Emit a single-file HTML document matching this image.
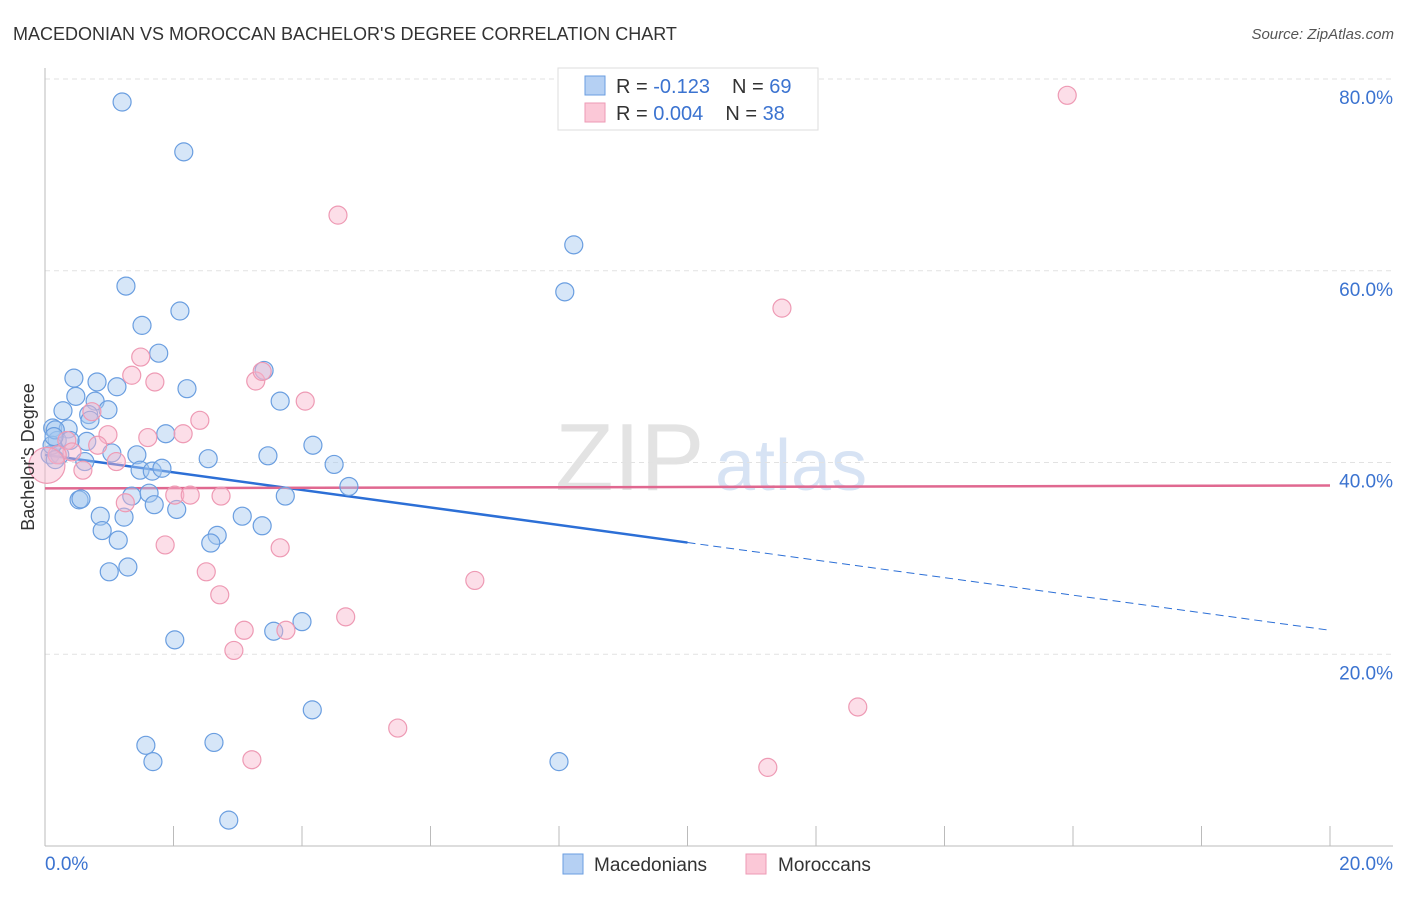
<!DOCTYPE html>
<html><head><meta charset="utf-8"><style>
body{margin:0;background:#fff;font-family:"Liberation Sans",sans-serif;}
svg text{font-family:"Liberation Sans",sans-serif;}
</style></head><body>
<svg id="chart" width="1406" height="892" viewBox="0 0 1406 892" xmlns="http://www.w3.org/2000/svg">
<text x="13" y="40" font-size="18" fill="#333">MACEDONIAN VS MOROCCAN BACHELOR'S DEGREE CORRELATION CHART</text>
<text x="1394" y="39" font-size="15" font-style="italic" fill="#555" text-anchor="end">Source: ZipAtlas.com</text>
<g>
<text x="555" y="490" font-size="96" font-family="Liberation Serif" fill="#d8d8d8" opacity="0.7">ZIP</text>
<text x="715" y="490" font-size="72" fill="#c7d8f0" opacity="0.7">atlas</text>
</g>
<g id="grid"></g>
<g id="axes"></g>
<g id="lines"></g>
<g id="points"></g>
<text transform="translate(34,457) rotate(-90)" font-size="18" fill="#333" text-anchor="middle">Bachelor's Degree</text>
<g>
<rect x="558" y="68" width="260" height="62" fill="#fff" stroke="#ddd"/>
<rect x="585" y="76" width="20" height="19" fill="#b5d0f3" stroke="#6a9ee0"/>
<rect x="585" y="103" width="20" height="19" fill="#fbc8d7" stroke="#ee9ab4"/>
<text x="616" y="93" font-size="20" fill="#333">R = <tspan fill="#3b73d0">-0.123</tspan><tspan dx="22">N = </tspan><tspan fill="#3b73d0">69</tspan></text>
<text x="616" y="120" font-size="20" fill="#333">R = <tspan fill="#3b73d0">0.004</tspan><tspan dx="22">N = </tspan><tspan fill="#3b73d0">38</tspan></text>
</g>
<g>
<rect x="563" y="854" width="20" height="20" fill="#b5d0f3" stroke="#6a9ee0"/>
<text x="594" y="871" font-size="19" fill="#333">Macedonians</text>
<rect x="746" y="854" width="20" height="20" fill="#fbc8d7" stroke="#ee9ab4"/>
<text x="778" y="871" font-size="19" fill="#333">Moroccans</text>
</g>
</svg>
<script>
const yTicks=[20,40,60,80];
const yTickLabels=["20.0%","40.0%","60.0%","80.0%"];
const xTicks=[0,2,4,6,8,10,12,14,16,18,20];
const xTickLabels=["0.0%","20.0%"];
const blueX=[1.20,2.16,8.23,8.09,1.26,2.10,1.51,1.77,3.41,0.45,0.81,1.12,2.21,3.66,0.48,0.78,0.28,0.98,0.68,0.12,0.36,0.19,0.65,4.17,1.88,0.08,0.23,1.04,1.43,2.54,3.47,4.50,0.62,1.48,1.67,1.82,4.73,0.53,0.56,1.35,1.62,1.70,2.05,3.74,0.86,1.23,3.07,3.38,0.89,1.14,2.68,2.58,1.00,1.29,4.00,3.56,2.02,4.16,1.57,1.68,2.63,8.00,2.86,0.11,0.16,0.16,0.39,0.70,0.14];
const blueY=[77.6,72.4,62.7,57.8,58.4,55.8,54.3,51.4,49.6,48.8,48.4,47.9,47.7,46.4,46.9,46.4,45.4,45.5,45.0,43.6,43.5,42.3,42.2,41.8,43.0,40.8,40.8,41.0,40.8,40.4,40.7,39.8,40.1,39.2,39.1,39.4,37.5,36.1,36.2,36.5,36.8,35.6,35.1,36.5,34.4,34.3,34.4,33.4,32.9,31.9,32.4,31.6,28.6,29.1,23.4,22.4,21.5,14.2,10.5,8.8,10.8,8.8,2.7,41.8,40.3,43.4,42.3,44.4,42.7];
const pinkX=[15.91,4.56,11.47,1.49,1.35,1.71,3.28,3.38,4.05,2.41,0.73,0.98,1.60,2.15,0.82,0.34,0.42,1.11,0.59,0.19,0.03,1.25,2.02,2.26,2.74,3.66,1.87,2.51,2.72,6.69,4.68,3.10,3.75,2.94,12.65,5.49,3.22,11.25];
const pinkY=[78.3,65.8,56.1,51.0,49.1,48.4,48.5,49.5,46.4,44.4,45.3,42.9,42.6,43.0,41.8,42.3,41.1,40.1,39.2,40.8,39.7,35.8,36.6,36.6,36.5,31.1,31.4,28.6,26.2,27.7,23.9,22.5,22.5,20.4,14.5,12.3,9.0,8.2];
const blueTrend=[40.8,22.5];
const pinkTrend=[37.3,37.6];
const sx=v=>45+v/20*1285;
const sy=v=>846-v/80*767;
const NS="http://www.w3.org/2000/svg";
function mk(parent,tag,attrs){const e=document.createElementNS(NS,tag);for(const k in attrs)e.setAttribute(k,attrs[k]);document.getElementById(parent).appendChild(e);return e;}
yTicks.forEach((t,i)=>{
 const g=mk('grid','line',{x1:45,x2:1393,y1:sy(t),y2:sy(t),stroke:'#e2e2e2','stroke-dasharray':'5,4'});
 
 
 const l=mk('axes','text',{x:1393,y:sy(t)+25,'font-size':19,fill:'#3b73d0','text-anchor':'end'});
 l.textContent=yTickLabels[i];
 
 
});
const ax=mk('axes','line',{x1:45,x2:45,y1:68,y2:846,stroke:'#bbb'});


const bx=mk('axes','line',{x1:45,x2:1393,y1:846,y2:846,stroke:'#bbb'});


xTicks.forEach(t=>{
 const k=mk('axes','line',{x1:sx(t),x2:sx(t),y1:826,y2:846,stroke:'#bbb'});
 
 
});
const xl0=mk('axes','text',{x:45,y:870,'font-size':19,fill:'#3b73d0'});xl0.textContent=xTickLabels[0];


const xl1=mk('axes','text',{x:1393,y:870,'font-size':19,fill:'#3b73d0','text-anchor':'end'});xl1.textContent=xTickLabels[1];


blueX.forEach((x,i)=>{
 const c=mk('points','circle',{cx:sx(x),cy:sy(blueY[i]),r:9,fill:'rgba(164,199,240,0.45)',stroke:'#6a9ee0','stroke-width':1.2});
 
 
});
pinkX.forEach((x,i)=>{
 const c=mk('points','circle',{cx:sx(x),cy:sy(pinkY[i]),r:i==20?18:9,fill:'rgba(248,182,204,0.45)',stroke:'#ee9ab4','stroke-width':1.2});
 
 
});
const by=x=>blueTrend[0]+(blueTrend[1]-blueTrend[0])*x/20;
const b1=mk('lines','line',{x1:sx(0),y1:sy(by(0)),x2:sx(10),y2:sy(by(10)),stroke:'#2c6fd6','stroke-width':2.5});


const b2=mk('lines','line',{x1:sx(10),y1:sy(by(10)),x2:sx(20),y2:sy(by(20)),stroke:'#2c6fd6','stroke-width':1,'stroke-dasharray':'8,5'});


const p1=mk('lines','line',{x1:sx(0),y1:sy(pinkTrend[0]),x2:sx(20),y2:sy(pinkTrend[1]),stroke:'#e06890','stroke-width':2.5});


</script>
</body></html>
